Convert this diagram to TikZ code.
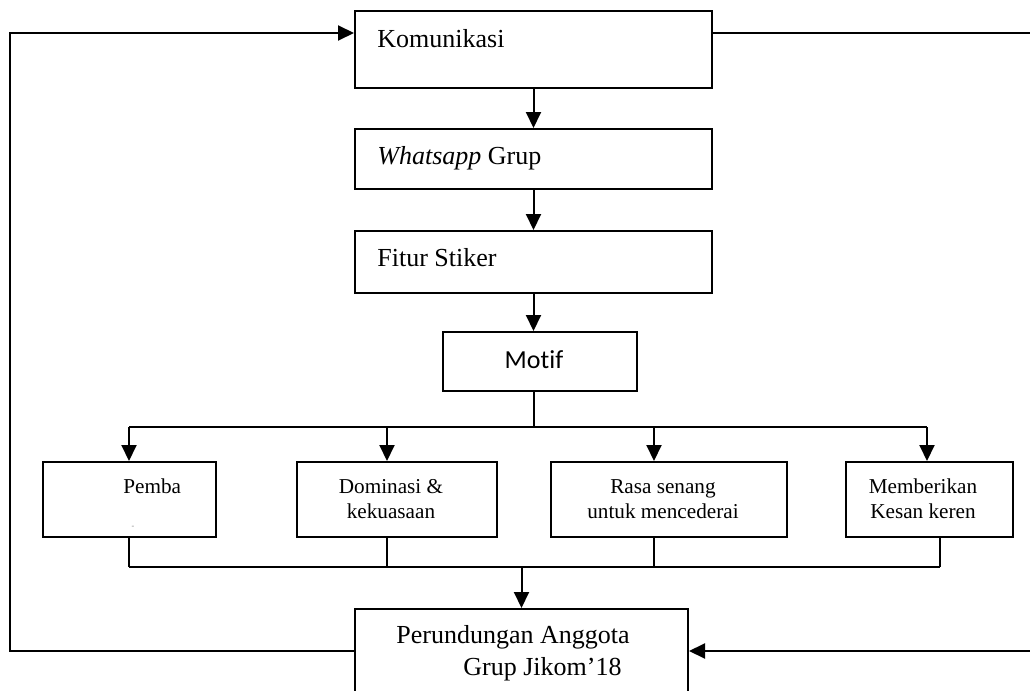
\documentclass[tikz,border=0pt]{standalone}
\usepackage{fontspec}
\setmainfont{Liberation Serif}
\newfontfamily\motiffont[Ligatures=NoCommon]{Carlito}
\usetikzlibrary{arrows.meta}
\tikzset{
  flowbox/.style={draw, line width=1pt, inner sep=0pt},
  bigtxt/.style={inner sep=0pt, font=\fontsize{13}{15}\selectfont},
  smalltxt/.style={inner sep=0pt, align=center, font=\fontsize{10.6}{12.5}\selectfont},
  conn/.style={line width=1pt},
  arr/.style={conn, -{Triangle[length=8pt,width=7.5pt]}}
}

\begin{document}
\begin{tikzpicture}[x=0.5pt,y=-0.5pt]
        \useasboundingbox (0,0) rectangle (1030,691);
        % boxes
        \node[flowbox, minimum width=178.5pt, minimum height=38.5pt] (kom) at (533.5,49.5) {};
        \node[flowbox, minimum width=178.5pt, minimum height=30pt] (wa) at (533.5,159) {};
        \node[flowbox, minimum width=178.5pt, minimum height=31pt] (fitur) at (533.5,262) {};
        \node[flowbox, minimum width=97pt, minimum height=29.5pt] (motif) at (540,361.5) {};
        \node[flowbox, minimum width=86.5pt, minimum height=37.5pt] (pemba) at (129.5,499.5) {};
        \node[flowbox, minimum width=100pt, minimum height=37.5pt] (domin) at (397,499.5) {};
        \node[flowbox, minimum width=118pt, minimum height=37.5pt] (rasa) at (669,499.5) {};
        \node[flowbox, minimum width=83.5pt, minimum height=37.5pt] (beri) at (929.5,499.5) {};
        \node[flowbox, minimum width=166.5pt, minimum height=53pt] (rundung) at (521.5,662) {};
        % texts
        \node[bigtxt, anchor=base west] (komtxt) at (377,47) {Komunikasi};
        \node[bigtxt, anchor=base west] (watxt) at (377,164) {\textit{Whatsapp} Grup};
        \node[bigtxt, anchor=base west] (fiturtxt) at (377,266) {Fitur Stiker};
        \node[bigtxt, anchor=base, font=\motiffont\fontsize{13}{15}\selectfont] (motiftxt) at (534,368) {Motif};
        \node[smalltxt, anchor=base west] (pembatxt) at (123,493) {Pemba};
        \node[inner sep=0pt, text=gray, font=\fontsize{4}{4}\selectfont] (pembadash) at (133,527) {-};
        \node[smalltxt] (domintxt) at (391,499) {Dominasi \&\\kekuasaan};
        \node[smalltxt] (rasatxt) at (663,499) {Rasa senang\\untuk mencederai};
        \node[smalltxt] (beritxt) at (923,499) {Memberikan\\Kesan keren};
        \node[bigtxt, anchor=west, align=left, font=\fontsize{13}{16}\selectfont] (rundungtxt) at (396,653.5)
          {Perundungan Anggota\\\hspace*{33.5pt}Grup Jikom’18};
        % top chain
        \draw[arr] (kom.south) -- (wa.north);
        \draw[arr] (wa.south) -- (fitur.north);
        \draw[arr] (fitur.south) -- (fitur.south |- motif.north);
        % split to the four motives
        \coordinate (split) at (533.5,427);
        \draw[conn] (fitur.south |- motif.south) -- (split);
        \coordinate (dpemba) at (129,427);
        \coordinate (ddomin) at (387,427);
        \coordinate (drasa) at (654,427);
        \coordinate (dberi) at (927,427);
        \draw[conn] (dpemba) -- (dberi);
        \foreach \n in {pemba,domin,rasa,beri}
          \draw[arr] (d\n) -- (d\n |- \n.north);
        % join back
        \coordinate (upemba) at (129,567);
        \coordinate (udomin) at (387,567);
        \coordinate (urasa) at (654,567);
        \coordinate (uberi) at (940,567);
        \coordinate (join) at (521.5,567);
        \foreach \n in {pemba,domin,rasa,beri}
          \draw[conn] (u\n |- \n.south) -- (u\n);
        \draw[conn] (upemba) -- (uberi);
        \draw[arr] (join) -- (rundung.north);
        % feedback loops
        \coordinate (lt) at (10,33);
        \coordinate (lb) at (10,651);
        \coordinate (rt) at (1040,33);
        \coordinate (rb) at (1040,651);
        \draw[arr] (rundung.west |- lb) -- (lb) -- (lt) -- (kom.west |- lt);
        \draw[arr] (kom.east |- rt) -- (rt) -- (rb) -- (rundung.east |- rb);
      \end{tikzpicture}
\end{document}
